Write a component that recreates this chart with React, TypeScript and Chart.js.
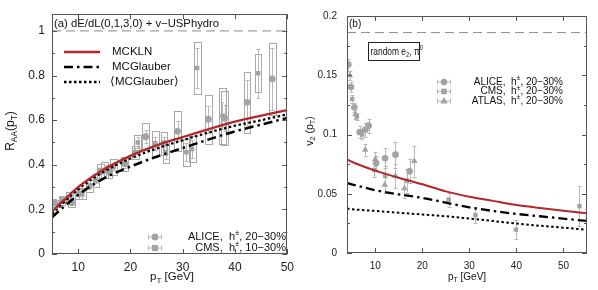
import React, { useEffect, useRef } from "react";
import { Chart, registerables } from "chart.js";
Chart.register(...registerables);

const FONT = "'Liberation Sans', Arial, Helvetica, sans-serif";
const RED = "#b3262a";
const GRAY = "#a3a3a3";
const ERR = "#b8b8b8";
const BOX = "#a8a8a8";
const FRAME = "#555555";

// ---------------- Panel (a): R_AA ----------------
const A_X_TICKS = [10, 20, 30, 40, 50];
const A_Y_TICKS = [0, 0.2, 0.4, 0.6, 0.8, 1];
const A_Y_MINOR = [0.1, 0.3, 0.5, 0.7, 0.9];
const A_REF = 1;
const A_CURVE_PT = [5, 10, 15, 20, 25, 30, 35, 40, 45, 50];
const A_MCKLN = [0.19, 0.3, 0.38, 0.44, 0.487, 0.524, 0.56, 0.593, 0.62, 0.645];
const A_MCG = [0.165, 0.265, 0.34, 0.392, 0.436, 0.475, 0.514, 0.55, 0.58, 0.61];
const A_MCG_AVG = [0.18, 0.29, 0.37, 0.428, 0.473, 0.51, 0.545, 0.575, 0.6, 0.626];

const A_ALICE_PT = [5.2, 6.9, 8.75, 10.1, 12.1, 14.3, 15.9, 18.9, 22.9, 26.4, 29.0, 34.9, 38.0, 42.3, 47.1];
const A_ALICE_RAA = [0.228, 0.24, 0.23, 0.27, 0.305, 0.372, 0.37, 0.405, 0.526, 0.496, 0.55, 0.604, 0.61, 0.68, 0.785];
const A_ALICE_STAT = [0.008, 0.01, 0.01, 0.012, 0.012, 0.015, 0.015, 0.02, 0.03, 0.03, 0.045, 0.06, 0.06, 0.1, 0.14];
const A_ALICE_SYS = [0.018, 0.022, 0.02, 0.022, 0.025, 0.03, 0.03, 0.032, 0.06, 0.05, 0.09, 0.11, 0.12, 0.137, 0.16];

const A_CMS_PT = [5.9, 8.4, 10.8, 13.4, 15.1, 16.8, 20.9, 21.4, 24.75, 26.8, 30.7, 31.8, 32.75, 37.6, 44.4];
const A_CMS_RAA = [0.225, 0.255, 0.27, 0.33, 0.377, 0.39, 0.456, 0.5, 0.496, 0.456, 0.456, 0.471, 0.834, 0.62, 0.81];
const A_CMS_STAT = [0.008, 0.01, 0.01, 0.012, 0.015, 0.015, 0.02, 0.025, 0.03, 0.03, 0.04, 0.04, 0.09, 0.06, 0.11];
const A_CMS_SYS = [0.015, 0.025, 0.025, 0.028, 0.035, 0.035, 0.03, 0.033, 0.055, 0.05, 0.06, 0.06, 0.115, 0.125, 0.085];

// ---------------- Panel (b): v2 ----------------
const B_X_TICKS = [10, 20, 30, 40, 50];
const B_Y_TICKS = [0, 0.05, 0.1, 0.15, 0.2];
const B_Y_MINOR = [0.025, 0.075, 0.125, 0.175];
const B_REF = 0.186;
const B_CURVE_PT = [4, 5, 10, 15, 20, 25, 30, 35, 40, 45, 50, 55];
const B_MCKLN = [0.079, 0.077, 0.0695, 0.0635, 0.058, 0.052, 0.0475, 0.044, 0.0405, 0.038, 0.0357, 0.0335];
const B_MCG = [0.059, 0.058, 0.053, 0.0495, 0.0465, 0.0425, 0.0385, 0.0355, 0.033, 0.031, 0.029, 0.027];
const B_MCG_AVG = [0.0375, 0.037, 0.0355, 0.034, 0.0325, 0.031, 0.029, 0.027, 0.0248, 0.023, 0.0214, 0.0195];

const B_ALICE_PT = [4.3, 4.85, 5.55, 6.7, 7.9, 8.6, 10.2, 12.1, 14.3, 17.3];
const B_ALICE_V2 = [0.159, 0.14, 0.123, 0.102, 0.104, 0.1075, 0.076, 0.08, 0.083, 0.069];
const B_ALICE_ERR = [0.005, 0.004, 0.004, 0.005, 0.006, 0.006, 0.006, 0.0085, 0.011, 0.01];

const B_CMS_PT = [5.1, 6.1, 7.2, 9.8, 12.1, 16.75, 25.6, 31.3, 39.9, 53.4];
const B_CMS_V2 = [0.13, 0.115, 0.1, 0.07, 0.065, 0.061, 0.045, 0.032, 0.0197, 0.0395];
const B_CMS_ERR = [0.003, 0.003, 0.004, 0.006, 0.008, 0.01, 0.006, 0.007, 0.008, 0.017];

const B_ATLAS_PT = [4.6, 5.8, 7.9, 10.0, 12.0, 14.3, 16.2, 18.3];
const B_ATLAS_V2 = [0.15, 0.117, 0.087, 0.079, 0.0575, 0.065, 0.0545, 0.0775];
const B_ATLAS_ERR = [0.004, 0.004, 0.005, 0.006, 0.007, 0.01, 0.008, 0.013];

type Seg = { t: string; s?: "sub" | "sup" };
type ErrSet = { pt: number[]; v: number[]; stat: number[]; sys?: number[] };

const font = (size: number) => `${size}px ${FONT}`;

function richWidth(ctx: CanvasRenderingContext2D, segs: Seg[], size: number) {
  let w = 0;
  for (const s of segs) {
    ctx.font = font(s.s ? size * 0.7 : size);
    w += ctx.measureText(s.t).width;
  }
  return w;
}

function drawRich(
  ctx: CanvasRenderingContext2D,
  segs: Seg[],
  x: number,
  y: number,
  size: number,
  align: "left" | "center" | "right" = "left",
  color = "#111"
) {
  const w = richWidth(ctx, segs, size);
  let cx = align === "left" ? x : align === "center" ? x - w / 2 : x - w;
  ctx.fillStyle = color;
  ctx.textAlign = "left";
  ctx.textBaseline = "middle";
  for (const s of segs) {
    const sz = s.s ? size * 0.7 : size;
    ctx.font = font(sz);
    const dy = s.s === "sub" ? size * 0.32 : s.s === "sup" ? -size * 0.38 : 0;
    ctx.fillText(s.t, cx, y + dy);
    cx += ctx.measureText(s.t).width;
  }
}

function drawRotated(ctx: CanvasRenderingContext2D, segs: Seg[], x: number, y: number, size: number) {
  ctx.save();
  ctx.translate(x, y);
  ctx.rotate(-Math.PI / 2);
  drawRich(ctx, segs, 0, 0, size, "center");
  ctx.restore();
}

function drawMarker(ctx: CanvasRenderingContext2D, style: string, x: number, y: number, r: number) {
  ctx.fillStyle = GRAY;
  ctx.beginPath();
  if (style === "circle") ctx.arc(x, y, r, 0, Math.PI * 2);
  else if (style === "rect") ctx.rect(x - r * 0.9, y - r * 0.9, r * 1.8, r * 1.8);
  else {
    ctx.moveTo(x, y - r * 1.1);
    ctx.lineTo(x + r * 1.05, y + r * 0.7);
    ctx.lineTo(x - r * 1.05, y + r * 0.7);
    ctx.closePath();
  }
  ctx.fill();
}

function legendMarker(ctx: CanvasRenderingContext2D, style: string, x: number, y: number, half: number, r: number) {
  ctx.save();
  ctx.strokeStyle = ERR;
  ctx.lineWidth = 1;
  ctx.beginPath();
  ctx.moveTo(x - half, y + 0.5);
  ctx.lineTo(x + half, y + 0.5);
  ctx.moveTo(x - half + 0.5, y - 2);
  ctx.lineTo(x - half + 0.5, y + 3);
  ctx.moveTo(x + half - 0.5, y - 2);
  ctx.lineTo(x + half - 0.5, y + 3);
  ctx.stroke();
  drawMarker(ctx, style, x, y + 0.5, r);
  ctx.restore();
}

function lineSample(ctx: CanvasRenderingContext2D, x0: number, x1: number, y: number, color: string, dash: number[], w: number) {
  ctx.save();
  ctx.strokeStyle = color;
  ctx.lineWidth = w;
  ctx.setLineDash(dash);
  ctx.beginPath();
  ctx.moveTo(x0, y);
  ctx.lineTo(x1, y);
  ctx.stroke();
  ctx.restore();
}

function drawErrs(chart: any, sets: ErrSet[], boxHalf: number) {
  const { ctx, chartArea: a } = chart;
  const xs = chart.scales.x;
  const ys = chart.scales.y;
  ctx.save();
  ctx.beginPath();
  ctx.rect(a.left, a.top, a.right - a.left, a.bottom - a.top);
  ctx.clip();
  ctx.lineWidth = 1;
  for (const s of sets) {
    for (let i = 0; i < s.pt.length; i++) {
      const px = Math.round(xs.getPixelForValue(s.pt[i])) + 0.5;
      if (s.sys) {
        const x0 = Math.round(xs.getPixelForValue(s.pt[i] - boxHalf)) + 0.5;
        const x1 = Math.round(xs.getPixelForValue(s.pt[i] + boxHalf)) + 0.5;
        const y0 = Math.round(ys.getPixelForValue(s.v[i] + s.sys[i])) + 0.5;
        const y1 = Math.round(ys.getPixelForValue(s.v[i] - s.sys[i])) + 0.5;
        ctx.strokeStyle = BOX;
        ctx.strokeRect(x0, y0, x1 - x0, y1 - y0);
      }
      const yt = ys.getPixelForValue(s.v[i] + s.stat[i]);
      const yb = ys.getPixelForValue(s.v[i] - s.stat[i]);
      ctx.strokeStyle = ERR;
      ctx.beginPath();
      ctx.moveTo(px, yt);
      ctx.lineTo(px, yb);
      ctx.moveTo(px - 2, Math.round(yt) + 0.5);
      ctx.lineTo(px + 2, Math.round(yt) + 0.5);
      ctx.moveTo(px - 2, Math.round(yb) + 0.5);
      ctx.lineTo(px + 2, Math.round(yb) + 0.5);
      ctx.stroke();
    }
  }
  ctx.restore();
}

function drawFrame(chart: any, xt: number[], yt: number[], ym: number[]) {
  const { ctx, chartArea: a } = chart;
  const xs = chart.scales.x;
  const ys = chart.scales.y;
  ctx.save();
  ctx.strokeStyle = FRAME;
  ctx.lineWidth = 1;
  ctx.strokeRect(Math.round(a.left) + 0.5, Math.round(a.top) + 0.5, Math.round(a.right - a.left) - 1, Math.round(a.bottom - a.top) - 1);
  ctx.beginPath();
  for (const v of xt) {
    const px = Math.round(xs.getPixelForValue(v)) + 0.5;
    ctx.moveTo(px, a.bottom);
    ctx.lineTo(px, a.bottom - 5);
    ctx.moveTo(px, a.top);
    ctx.lineTo(px, a.top + 5);
  }
  const yTick = (v: number, len: number) => {
    const py = Math.round(ys.getPixelForValue(v)) + 0.5;
    ctx.moveTo(a.left, py);
    ctx.lineTo(a.left + len, py);
    ctx.moveTo(a.right, py);
    ctx.lineTo(a.right - len, py);
  };
  yt.forEach((v) => yTick(v, 5));
  ym.forEach((v) => yTick(v, 3));
  ctx.stroke();
  ctx.restore();
}

const pts = (xs: number[], ys: number[]) => xs.map((x, i) => ({ x, y: ys[i] }));

function curve(data: any[], color: string, dash: number[], width: number) {
  return {
    type: "line" as const,
    data,
    borderColor: color,
    backgroundColor: color,
    borderWidth: width,
    borderDash: dash,
    pointRadius: 0,
    showLine: true,
    cubicInterpolationMode: "monotone" as const,
    fill: false,
    order: 0,
  };
}

function markers(data: any[], style: string, r: number) {
  return {
    type: "scatter" as const,
    data,
    pointStyle: style,
    pointRadius: r,
    backgroundColor: GRAY,
    borderColor: GRAY,
    borderWidth: 0,
    order: 2,
  };
}

function scaleOpts(min: number, max: number, ticks: number[], size: number, padding: number, fit: (s: any) => void) {
  return {
    type: "linear" as const,
    min,
    max,
    afterBuildTicks: (s: any) => {
      s.ticks = ticks.map((v) => ({ value: v }));
    },
    ticks: {
      font: { family: FONT, size },
      color: "#222",
      padding,
      autoSkip: false,
      maxRotation: 0,
      callback: (v: any) => String(+Number(v).toFixed(3)),
    },
    grid: { display: false, drawTicks: false },
    border: { display: false },
    afterFit: fit,
  };
}

function configA(): any {
  const aliceSet: ErrSet = { pt: A_ALICE_PT, v: A_ALICE_RAA, stat: A_ALICE_STAT, sys: A_ALICE_SYS };
  const cmsSet: ErrSet = { pt: A_CMS_PT, v: A_CMS_RAA, stat: A_CMS_STAT, sys: A_CMS_SYS };
  const plugin = {
    id: "panelA",
    beforeDatasetsDraw(chart: any) {
      drawErrs(chart, [aliceSet, cmsSet], 0.65);
    },
    afterDraw(chart: any) {
      drawFrame(chart, A_X_TICKS, A_Y_TICKS, A_Y_MINOR);
      const ctx = chart.ctx as CanvasRenderingContext2D;
      ctx.save();
      drawRich(ctx, [{ t: "(a) dE/dL(0,1,3,0) + v−USPhydro" }], 54, 24, 11.3, "left");
      lineSample(ctx, 64, 100, 52, RED, [], 2.5);
      lineSample(ctx, 64, 100, 67, "#000", [9, 4, 2.5, 4], 2.5);
      lineSample(ctx, 64, 100, 82, "#000", [2.5, 2.5], 2.5);
      drawRich(ctx, [{ t: "MCKLN" }], 112, 52, 11.5);
      drawRich(ctx, [{ t: "MCGlauber" }], 112, 67, 11.5);
      drawRich(ctx, [{ t: "⟨MCGlauber⟩" }], 110, 82, 11.5);
      legendMarker(ctx, "circle", 155, 236.5, 7, 3.4);
      legendMarker(ctx, "rect", 155, 247.5, 7, 3.4);
      drawRich(ctx, [{ t: "ALICE,  h" }, { t: "±", s: "sup" }, { t: ", 20−30%" }], 286, 237, 11, "right");
      drawRich(ctx, [{ t: "CMS,  h" }, { t: "±", s: "sup" }, { t: ", 10−30%" }], 286, 248, 11, "right");
      drawRotated(ctx, [{ t: "R" }, { t: "AA", s: "sub" }, { t: "(p" }, { t: "T", s: "sub" }, { t: ")" }], 11, 131, 12);
      drawRich(ctx, [{ t: "p" }, { t: "T", s: "sub" }, { t: " [GeV]" }], 172, 277, 11.5, "center");
      ctx.restore();
    },
  };
  return {
    type: "scatter",
    data: {
      datasets: [
        curve(pts([5, 50], [A_REF, A_REF]), "#8c8c8c", [9, 5], 1),
        curve(pts(A_CURVE_PT, A_MCKLN), RED, [], 2.3),
        curve(pts(A_CURVE_PT, A_MCG), "#000", [9, 4, 2.5, 4], 2.5),
        curve(pts(A_CURVE_PT, A_MCG_AVG), "#000", [2.5, 2.5], 2.3),
        markers(pts(A_ALICE_PT, A_ALICE_RAA), "circle", 3.4),
        markers(pts(A_CMS_PT, A_CMS_RAA), "rect", 3.2),
      ],
    },
    options: {
      responsive: false,
      animation: false,
      devicePixelRatio: 1,
      layout: { padding: { top: 13, right: 8, left: 0, bottom: 0 } },
      plugins: { legend: { display: false }, tooltip: { enabled: false } },
      scales: {
        x: scaleOpts(5, 50, A_X_TICKS, 12, 6, (s: any) => { s.height = 36; }),
        y: scaleOpts(0, 1.075, A_Y_TICKS, 12, 7, (s: any) => { s.width = 52; }),
      },
    },
    plugins: [plugin],
  };
}

function configB(): any {
  const sets: ErrSet[] = [
    { pt: B_ALICE_PT, v: B_ALICE_V2, stat: B_ALICE_ERR },
    { pt: B_CMS_PT, v: B_CMS_V2, stat: B_CMS_ERR },
    { pt: B_ATLAS_PT, v: B_ATLAS_V2, stat: B_ATLAS_ERR },
  ];
  const plugin = {
    id: "panelB",
    beforeDatasetsDraw(chart: any) {
      drawErrs(chart, sets, 0);
    },
    afterDraw(chart: any) {
      drawFrame(chart, B_X_TICKS, B_Y_TICKS, B_Y_MINOR);
      const ctx = chart.ctx as CanvasRenderingContext2D;
      ctx.save();
      drawRich(ctx, [{ t: "(b)" }], 49, 24, 10);
      // boxed label
      ctx.strokeStyle = "#222";
      ctx.lineWidth = 1;
      ctx.strokeRect(68.5, 42.5, 51, 18);
      ctx.save();
      ctx.translate(70.5, 52);
      ctx.scale(0.8, 1);
      drawRich(ctx, [{ t: "random e" }, { t: "2", s: "sub" }, { t: ", π" }, { t: "0", s: "sup" }], 0, 0, 10.5);
      ctx.restore();
      legendMarker(ctx, "circle", 144, 81.5, 7, 3.3);
      legendMarker(ctx, "rect", 144, 91, 7, 3.1);
      legendMarker(ctx, "triangle", 144, 100.5, 7, 3.6);
      drawRich(ctx, [{ t: "ALICE,  h" }, { t: "±", s: "sup" }, { t: ", 20−30%" }], 263, 82, 10, "right");
      drawRich(ctx, [{ t: "CMS,  h" }, { t: "±", s: "sup" }, { t: ", 20−30%" }], 263, 91.5, 10, "right");
      drawRich(ctx, [{ t: "ATLAS,  h" }, { t: "±", s: "sup" }, { t: ", 20−30%" }], 263, 101, 10, "right");
      drawRotated(ctx, [{ t: "v" }, { t: "2", s: "sub" }, { t: " (p" }, { t: "T", s: "sub" }, { t: ")" }], 10, 131, 10.5);
      drawRich(ctx, [{ t: "p" }, { t: "T", s: "sub" }, { t: " [GeV]" }], 167, 277, 10, "center");
      ctx.restore();
    },
  };
  return {
    type: "scatter",
    data: {
      datasets: [
        curve(pts([4, 55], [B_REF, B_REF]), "#8c8c8c", [9, 5], 1),
        curve(pts(B_CURVE_PT, B_MCKLN), RED, [], 2),
        curve(pts(B_CURVE_PT, B_MCG), "#000", [9, 4, 2.5, 4], 2.3),
        curve(pts(B_CURVE_PT, B_MCG_AVG), "#000", [2.5, 2.5], 2),
        markers(pts(B_ALICE_PT, B_ALICE_V2), "circle", 3.3),
        markers(pts(B_CMS_PT, B_CMS_V2), "rect", 3.1),
        markers(pts(B_ATLAS_PT, B_ATLAS_V2), "triangle", 3.8),
      ],
    },
    options: {
      responsive: false,
      animation: false,
      devicePixelRatio: 1,
      layout: { padding: { top: 12, right: 11, left: 0, bottom: 0 } },
      plugins: { legend: { display: false }, tooltip: { enabled: false } },
      scales: {
        x: scaleOpts(4, 55, B_X_TICKS, 10, 7, (s: any) => { s.height = 37; }),
        y: scaleOpts(0, 0.2, B_Y_TICKS, 10, 10, (s: any) => { s.width = 47; }),
      },
    },
    plugins: [plugin],
  };
}

export default function App() {
  const aRef = useRef<HTMLCanvasElement>(null);
  const bRef = useRef<HTMLCanvasElement>(null);
  useEffect(() => {
    const ca = new Chart(aRef.current!, configA());
    const cb = new Chart(bRef.current!, configB());
    return () => {
      ca.destroy();
      cb.destroy();
    };
  }, []);
  return (
    <div style={{ position: "absolute", left: 0, top: 0, width: 598, height: 290, background: "#fff" }}>
      <canvas ref={aRef} width={300} height={290} style={{ position: "absolute", left: 0, top: 0, width: 300, height: 290 }} />
      <canvas ref={bRef} width={298} height={290} style={{ position: "absolute", left: 300, top: 0, width: 298, height: 290 }} />
    </div>
  );
}
